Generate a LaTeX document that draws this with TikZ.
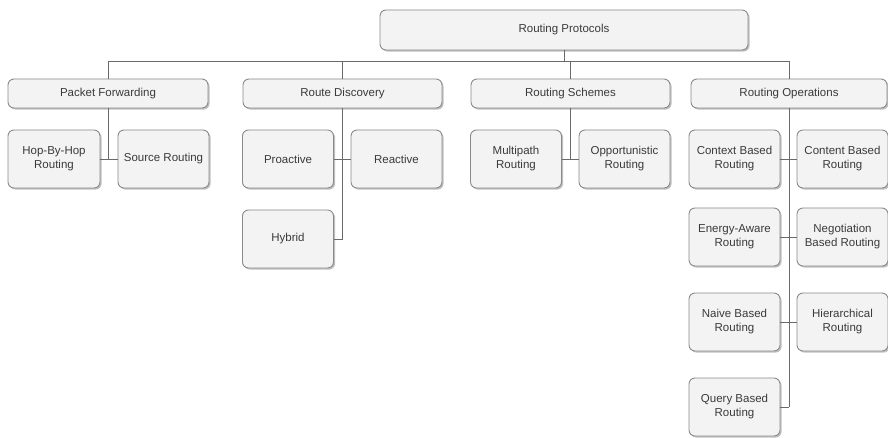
\documentclass[tikz,border=0pt]{standalone}
\usepackage{fontspec}
\setmainfont{Liberation Sans}
\usetikzlibrary{shadows}
\definecolor{boxfill}{HTML}{F3F3F3}
\definecolor{boxline}{HTML}{8A8A8A}
\definecolor{txt}{HTML}{3A3A3A}
\definecolor{conn}{HTML}{6A6A6A}
\tikzset{
  box/.style={draw=boxline, line width=0.9pt, fill=boxfill, rounded corners=6pt,
    text=txt, align=center, inner sep=1pt, font=\fontsize{11.5}{14}\selectfont,
    drop shadow={shadow xshift=1.6pt, shadow yshift=-1.6pt, fill=black!45, opacity=0.55}},
  leaf/.style={box, minimum width=91pt, minimum height=58pt},
  cat/.style={box, minimum height=29pt},
  wire/.style={draw=conn, line width=0.9pt}
}
\begin{document}
\begin{tikzpicture}[x=1pt, y=-1pt]
\useasboundingbox (0,0) rectangle (888,438);
% root
\node[box, minimum width=368pt, minimum height=40pt] (root) at (564,30) {Routing Protocols};
% categories
\node[cat, minimum width=200pt] (pf) at (108,93.5) {Packet Forwarding};
\node[cat, minimum width=199pt] (rd) at (342.5,93.5) {Route Discovery};
\node[cat, minimum width=199pt] (rs) at (570.5,93.5) {Routing Schemes};
\node[cat, minimum width=196pt] (ro) at (789,93.5) {Routing Operations};
% leaves
\node[leaf, minimum width=92pt] (hop) at (54,159) {Hop-By-Hop\\Routing};
\node[leaf] (src) at (163.5,159) {Source Routing};
\node[leaf] (pro) at (288,159) {Proactive};
\node[leaf] (rea) at (396.5,159) {Reactive};
\node[leaf] (hyb) at (288,239) {Hybrid};
\node[leaf] (mul) at (516,159) {Multipath\\Routing};
\node[leaf] (opp) at (624.5,159) {Opportunistic\\Routing};
\node[leaf] (ctx) at (734.5,159) {Context Based\\Routing};
\node[leaf] (cnt) at (842.5,159) {Content Based\\Routing};
\node[leaf] (ene) at (734.5,237) {Energy-Aware\\Routing};
\node[leaf] (neg) at (842.5,237) {Negotiation\\Based Routing};
\node[leaf] (nai) at (734.5,322) {Naive Based\\Routing};
\node[leaf] (hie) at (842.5,322) {Hierarchical\\Routing};
\node[leaf] (qry) at (734.5,407) {Query Based\\Routing};
% bus
\coordinate (busy) at (0,61);
\draw[wire] (pf.north |- busy) -- (ro.north |- busy);
\draw[wire] (root.south) -- (root.south |- busy);
\foreach \n in {pf,rd,rs,ro} \draw[wire] (\n.north |- busy) -- (\n.north);
% packet forwarding
\draw[wire] (pf.south) -- (pf.south |- hop.east);
\draw[wire] (hop.east) -- (src.west);
% route discovery
\draw[wire] (rd.south) -- (rd.south |- hyb.east);
\draw[wire] (pro.east) -- (rea.west);
\draw[wire] (hyb.east) -- (rd.south |- hyb.east);
% routing schemes
\draw[wire] (rs.south) -- (rs.south |- mul.east);
\draw[wire] (mul.east) -- (opp.west);
% routing operations
\draw[wire] (ro.south) -- (ro.south |- qry.east);
\draw[wire] (ctx.east) -- (cnt.west);
\draw[wire] (ene.east) -- (neg.west);
\draw[wire] (nai.east) -- (hie.west);
\draw[wire] (qry.east) -- (ro.south |- qry.east);
\end{tikzpicture}
\end{document}
